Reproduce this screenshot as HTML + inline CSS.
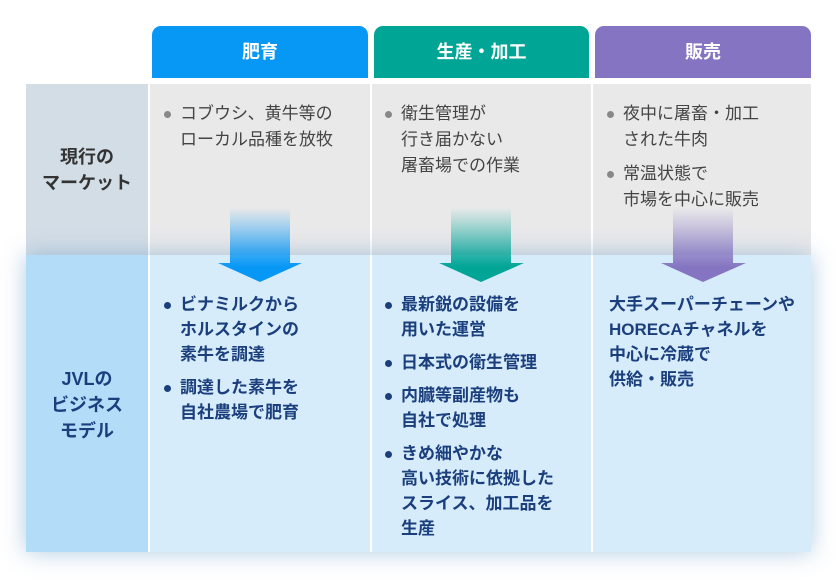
<!DOCTYPE html>
<html><head><meta charset="utf-8"><style>
body{margin:0;width:840px;height:579px;background:#fff;font-family:"Liberation Sans","Noto Sans CJK JP",sans-serif;position:relative;overflow:hidden}
.a{position:absolute}
.tab{top:26px;height:52px;border-radius:9px 9px 0 0;color:#fff;font-size:18px;font-weight:bold;text-align:center;line-height:52px}
.top{top:84px;height:171px;background:#e9e9ea}
.t{font-size:17px;color:#444;line-height:26px}
.b{font-size:17px;color:#1b3f7d;font-weight:bold;line-height:25px}
ul{margin:0;padding:0;list-style:none}
li{position:relative;padding-left:17px;margin-bottom:8px;white-space:nowrap}
li:before{content:"";position:absolute;left:1px;top:10px;width:7px;height:7px;border-radius:50%;background:#888}
.b li:before{background:#1b3f7d}
</style></head><body>
<div class="a tab" style="left:152px;width:216px;background:#0797f5">肥育</div>
<div class="a tab" style="left:374px;width:215px;background:#00a596">生産・加工</div>
<div class="a tab" style="left:595px;width:216px;background:#8574c1">販売</div>

<div class="a" style="left:26px;top:84px;width:122px;height:171px;background:#d3dde6"></div>
<div class="a top" style="left:150px;width:220px"></div>
<div class="a top" style="left:372px;width:219px"></div>
<div class="a top" style="left:593px;width:218px"></div>

<div class="a" style="left:26px;top:255px;width:785px;height:297px;box-shadow:0 0 22px rgba(80,140,190,.45);background:#d7ecfb"></div>
<div class="a" style="left:26px;top:255px;width:122px;height:297px;background:#b2dcf8"></div>
<div class="a" style="left:148px;top:255px;width:2px;height:297px;background:#fff"></div>
<div class="a" style="left:370px;top:255px;width:2px;height:297px;background:#fff"></div>
<div class="a" style="left:591px;top:255px;width:2px;height:297px;background:#fff"></div>

<div class="a" style="left:26px;top:144px;width:122px;text-align:center;font-size:18px;font-weight:bold;color:#333;line-height:26px">現行の<br>マーケット</div>
<div class="a" style="left:26px;top:366px;width:122px;text-align:center;font-size:18px;font-weight:bold;color:#1b3f7d;line-height:26px">JVLの<br>ビジネス<br>モデル</div>

<div class="a t" style="left:163px;top:101px"><ul><li>コブウシ、黄牛等の<br>ローカル品種を放牧</li></ul></div>
<div class="a t" style="left:384px;top:101px"><ul><li>衛生管理が<br>行き届かない<br>屠畜場での作業</li></ul></div>
<div class="a t" style="left:606px;top:101px"><ul><li>夜中に屠畜・加工<br>された牛肉</li><li>常温状態で<br>市場を中心に販売</li></ul></div>

<svg class="a" style="left:0;top:0" width="840" height="579">
<defs>
<linearGradient id="g1" x1="0" y1="0" x2="0" y2="1"><stop offset="0" stop-color="#0797f5" stop-opacity="0"/><stop offset=".8" stop-color="#0797f5"/></linearGradient>
<linearGradient id="g2" x1="0" y1="0" x2="0" y2="1"><stop offset="0" stop-color="#00a596" stop-opacity="0"/><stop offset=".8" stop-color="#00a596"/></linearGradient>
<linearGradient id="g3" x1="0" y1="0" x2="0" y2="1"><stop offset="0" stop-color="#8574c1" stop-opacity="0"/><stop offset=".8" stop-color="#8574c1"/></linearGradient>
</defs>
<path d="M230 208H290V263H302L260 282L218 263H230Z" fill="url(#g1)"/>
<path d="M451 208H511V263H524L481 282L439 263H451Z" fill="url(#g2)"/>
<path d="M673 208H733V263H746L703 282L661 263H673Z" fill="url(#g3)"/>
</svg>

<div class="a b" style="left:163px;top:292px"><ul><li>ビナミルクから<br>ホルスタインの<br>素牛を調達</li><li>調達した素牛を<br>自社農場で肥育</li></ul></div>
<div class="a b" style="left:384px;top:292px"><ul><li>最新鋭の設備を<br>用いた運営</li><li>日本式の衛生管理</li><li>内臓等副産物も<br>自社で処理</li><li>きめ細やかな<br>高い技術に依拠した<br>スライス、加工品を<br>生産</li></ul></div>
<div class="a b" style="left:609px;top:292px;white-space:nowrap">大手スーパーチェーンや<br>HORECAチャネルを<br>中心に冷蔵で<br>供給・販売</div>
</body></html>
